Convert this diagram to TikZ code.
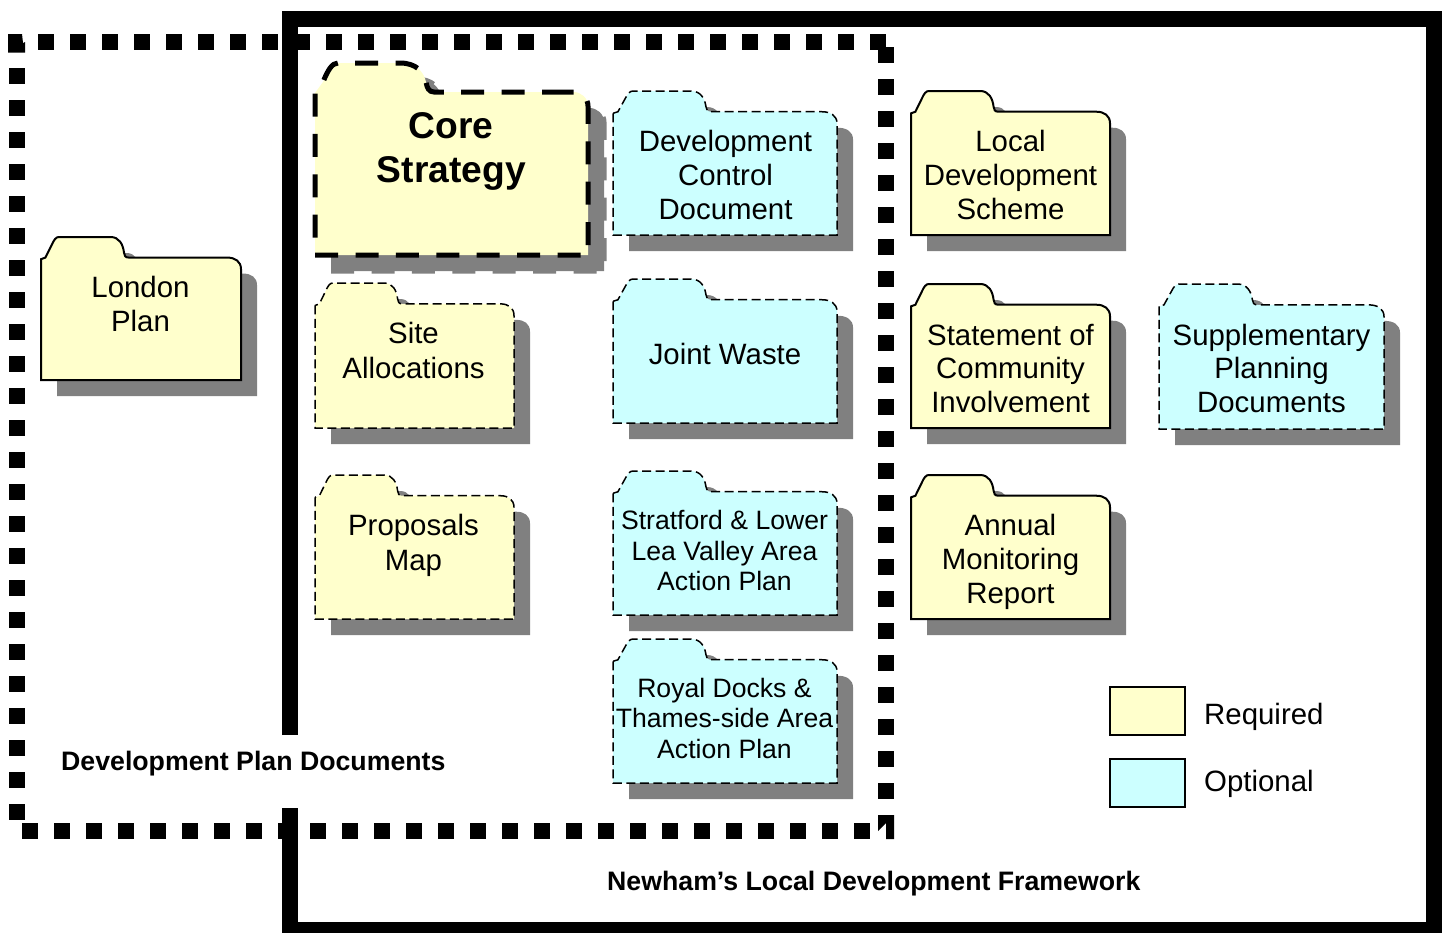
\documentclass[tikz,border=0pt]{standalone}
\usepackage{fontspec}
\setmainfont{Liberation Sans}
\definecolor{reqyellow}{HTML}{FFFFCC}
\definecolor{optcyan}{HTML}{CCFFFF}
\definecolor{shadowgray}{HTML}{808080}
\tikzset{
  solidedge/.style={line width=2pt,solid},
  thinedge/.style={line width=1.5pt,dash pattern=on 9pt off 4.5pt},
  heavyA/.style={line width=5pt,dash pattern=on 23pt off 17.4pt},
  heavyB/.style={line width=5pt,dash pattern=on 31.5pt off 17.4pt on 23pt off 17.4pt on 23pt off 17.4pt on 23pt off 17.4pt on 23pt off 17.4pt on 23pt off 17.4pt on 23pt off 100pt},
  plainshadow/.style={line width=0pt,draw=none},
  bigdots/.style={line width=16pt,dash pattern=on 16pt off 16pt},
  labeltext/.style={align=center,inner sep=0pt,font=\fontsize{29.4}{33.8}\selectfont},
  wide/.style={align=center,inner sep=0pt,font=\fontsize{29.4}{35.5}\selectfont},
  smalltext/.style={align=center,inner sep=0pt,font=\fontsize{26.6}{30.5}\selectfont},
  coretext/.style={align=center,inner sep=0pt,font=\fontsize{37.2}{44.5}\selectfont\bfseries},
  titletext/.style={anchor=west,inner sep=0pt,font=\fontsize{26.7}{32}\selectfont\bfseries},
  legendtext/.style={anchor=west,inner sep=0pt,font=\fontsize{29.4}{34}\selectfont},
  legendbox/.style={draw=black,line width=2pt}
}
\newcommand{\folderpath}{(0,.155) -- (0,1) -- (1,1) -- (1,.225) .. controls (1,.17) and (.97,.144) .. (.933,.144) -- (.44,.144) .. controls (.42,.144) and (.417,.13) .. (.415,.109) .. controls (.41,.05) and (.39,0) .. (.348,0) -- (.089,0) .. controls (.075,0) and (.065,.02) .. (.055,.051) -- (.022,.144) -- cycle}
\newcommand{\coreA}{(315,93.5) -- (315,255) -- (588,255) -- (588,106) .. controls (588,98) and (581,92) .. (573.5,92)}
\newcommand{\coreB}{(573.5,92) -- (434,92) .. controls (429,92) and (427,88) .. (426,82) .. controls (424,72) and (416,63) .. (400,63) -- (338,63) .. controls (332,63) and (328,70) .. (323,82) -- (315,93)}
\newcommand{\corefill}{(315,93) -- (315,255) -- (588,255) -- (588,106) .. controls (588,98) and (581,92) .. (573.5,92) -- (434,92) .. controls (429,92) and (427,88) .. (426,82) .. controls (424,72) and (416,63) .. (400,63) -- (338,63) .. controls (332,63) and (328,70) .. (323,82) -- cycle}
% x0 y0 x1 y1 fill edge
\newcommand{\folder}[6]{%
  \pgfmathsetmacro{\fw}{#3-#1}\pgfmathsetmacro{\fh}{#4-#2}%
  \begin{scope}[shift={(#1+16,#2+16)},x=\fw pt,y={-\fh pt}]
    \path[fill=shadowgray,plainshadow] \folderpath;
  \end{scope}
  \begin{scope}[shift={(#1,#2)},x=\fw pt,y={-\fh pt}]
    \path[fill=#5] \folderpath;
    \path[draw=black,#6] \folderpath;
  \end{scope}}
\begin{document}
\begin{tikzpicture}[x=1pt,y=-1pt]
\useasboundingbox (0,0) rectangle (1445,932);
\clip (0,0) rectangle (1445,932);
\fill[white] (0,0) rectangle (1445,932);
% framework outline
\draw[line width=16pt,miter limit=10] (290,735) -- (290,18.5) -- (1434,18.5) -- (1434,930) -- (290,930) -- (290,808);
% development plan documents outline
\draw[bigdots] (38,42) -- (886,42);
\draw[bigdots] (16.5,68) -- (16.5,822);
\draw[bigdots] (22,831) -- (870,831);
\draw[bigdots] (886,47) -- (886,815);
\fill (8,34) -- (22,34) -- (23,43) -- (25,42) -- (25,52.5) -- (8,52.5) -- cycle;
\fill (878,815) -- (894,815) -- (894,839) -- (886,839) -- (886,823) -- (878,831) -- cycle;
% folders
\folder{41}{237}{241}{380}{reqyellow}{solidedge}
% core strategy folder
\begin{scope}[shift={(16,16)}]
  \fill[shadowgray] \corefill;
  \draw[shadowgray,heavyA] \coreA;
  \draw[shadowgray,heavyB] \coreB;
\end{scope}
\fill[reqyellow] \corefill;
\draw[heavyA] \coreA;
\draw[heavyB] \coreB;
\folder{315}{283}{514}{428}{reqyellow}{thinedge}
\folder{315}{475}{514}{619}{reqyellow}{thinedge}
\folder{613}{91}{837}{235}{optcyan}{thinedge}
\folder{613}{279}{837}{423}{optcyan}{thinedge}
\folder{613}{471}{837}{615}{optcyan}{thinedge}
\folder{613}{639}{837}{783}{optcyan}{thinedge}
\folder{911}{91}{1110}{235}{reqyellow}{solidedge}
\folder{911}{284}{1110}{428}{reqyellow}{solidedge}
\folder{911}{475}{1110}{619}{reqyellow}{solidedge}
\folder{1159}{284}{1384}{429}{optcyan}{thinedge}
% texts
\node[labeltext] (london) at (140.5,304) {London\\Plan};
\node[coretext] (core) at (451.3,151.5) {Core\\Strategy};
\node[wide] (site) at (413.5,350.5) {Site\\Allocations};
\node[wide] (proposals) at (413.5,545.5) {Proposals\\Map};
\node[labeltext] (dcd) at (725.5,175) {Development\\Control\\Document};
\node[labeltext] (waste) at (725,354) {Joint Waste};
\node[smalltext] (stratford) at (724.5,550.5) {Stratford \& Lower\\Lea Valley Area\\Action Plan};
\node[smalltext] (royal) at (724.5,718) {Royal Docks \&\\Thames-side Area\\Action Plan};
\node[labeltext] (lds) at (1010.5,175) {Local\\Development\\Scheme};
\node[labeltext] (sci) at (1010.5,368.3) {Statement of\\Community\\Involvement};
\node[labeltext] (amr) at (1010.5,562) {Annual\\Monitoring\\Report};
\node[labeltext] (spd) at (1271.5,368.3) {Supplementary\\Planning\\Documents};
\node[titletext] (dpd) at (61,764) {Development Plan Documents};
\node[titletext] (ldf) at (607,884) {Newham’s Local Development Framework};
% legend
\node[legendbox,fill=reqyellow,minimum width=75pt,minimum height=48pt,inner sep=0pt] (reqbox) at (1147.5,711) {};
\node[legendbox,fill=optcyan,minimum width=75pt,minimum height=48pt,inner sep=0pt] (optbox) at (1147.5,783) {};
\node[legendtext] (req) at (1204,717) {Required};
\node[legendtext] (opt) at (1204,784) {Optional};
\end{tikzpicture}
\end{document}
